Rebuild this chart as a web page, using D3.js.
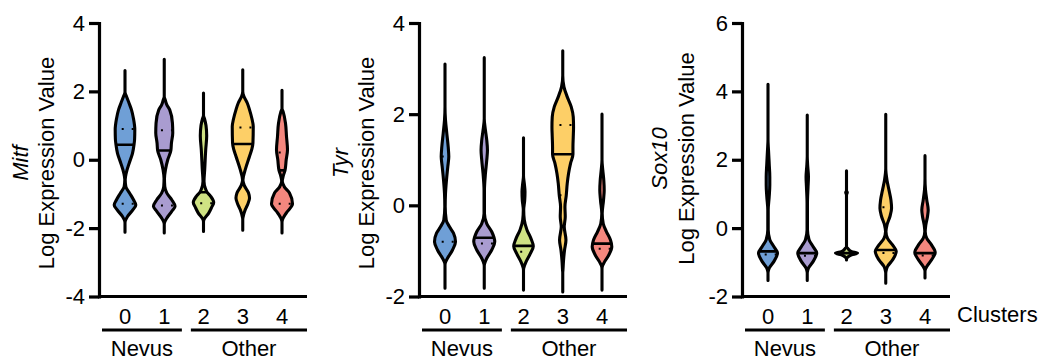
<!DOCTYPE html>
<html><head><meta charset="utf-8">
<script src="https://cdn.jsdelivr.net/npm/d3@7"></script>
<style>
body{margin:0;background:#fff}
svg{display:block}
text{font-family:"Liberation Sans",Arial,sans-serif;fill:#000}
</style>
</head><body>
<svg id="c" width="1044" height="362"></svg>
<script>
// ---------------- DATA ----------------
const clusters = ["0", "1", "2", "3", "4"];
const clusterColors = ["#6f9fd6", "#a99cd0", "#cfe283", "#fdcf67", "#f4877e"];
const groupNames = ["Nevus", "Other"];
const groupMembers = [["0", "1"], ["2", "3", "4"]];
const xAxisTitle = "Clusters";
const yAxisTitle = "Log Expression Value";
const genes = ["Mitf", "Tyr", "Sox10"];

const mitfRange = [-4, 4];
const mitfTicks = [-4, -2, 0, 2, 4];
const tyrRange = [-2, 4];
const tyrTicks = [-2, 0, 2, 4];
const sox10Range = [-2, 6];
const sox10Ticks = [-2, 0, 2, 4, 6];

// violin density profiles: [log expression value, relative density]
const mitfViolins = [
  [[2.61,0],[1.98,0],[1.85,1.5],[1.66,4],[1.46,6.5],[1.2,8.5],[0.88,9.8],[0.6,9.6],[0.44,9],[0.19,7.5],[-0.10,4.2],[-0.39,1.2],[-0.58,0.2],[-0.78,0.8],[-0.97,4.5],[-1.17,8.5],[-1.32,10.8],[-1.46,8],[-1.66,2.5],[-1.80,0.2],[-1.86,0],[-2.12,0]],
  [[2.94,0],[1.85,0],[1.75,1.0],[1.61,2.5],[1.46,5.5],[1.07,8.2],[0.78,8.5],[0.49,7.2],[0.27,6.6],[0,3.5],[-0.29,1.2],[-0.55,0.2],[-0.78,0.5],[-0.97,2.5],[-1.17,7.5],[-1.36,10.8],[-1.51,7.5],[-1.71,2.5],[-1.85,0.2],[-1.9,0],[-2.14,0]],
  [[1.95,0],[1.3,0],[1.2,1.0],[1.0,2.5],[0.7,3.2],[0.29,2.2],[-0.29,1.2],[-0.63,0.5],[-0.85,2.0],[-0.95,3.6],[-1.07,7.2],[-1.25,10.2],[-1.4,8],[-1.56,5.2],[-1.75,0.5],[-1.82,0],[-2.1,0]],
  [[2.63,0],[2.0,0],[1.85,1.2],[1.66,4.5],[1.46,6.8],[1.2,9.2],[0.97,10.5],[0.49,10.2],[0.3,9],[0.1,6.8],[-0.29,2.5],[-0.5,0.6],[-0.6,0.2],[-0.75,1.5],[-0.97,5.8],[-1.12,6.8],[-1.3,5.0],[-1.46,2.5],[-1.68,0.3],[-1.75,0],[-2.06,0]],
  [[2.03,0],[1.5,0],[1.40,1.2],[1.07,3.5],[0.68,4.5],[0.29,5.5],[0,4.2],[-0.31,3.0],[-0.48,1.2],[-0.63,0.3],[-0.8,2.5],[-0.97,7.5],[-1.29,10.5],[-1.56,4.2],[-1.78,0.2],[-1.84,0],[-2.14,0]]
];
const mitfMedian = [0.44, 0.27, -0.95, 0.46, -0.31];
const mitfQ1 = [-1.29, -1.34, -1.27, -0.60, -1.29];
const mitfQ3 = [0.90, 0.86, -0.5, 0.94, 0.21];

const tyrViolins = [
  [[3.10,0],[2.16,0],[1.87,0.5],[1.58,1.8],[1.28,3.2],[1.07,3.8],[0.85,2.8],[0.56,1.5],[0.26,0.5],[-0.03,0.2],[-0.32,1.2],[-0.47,4.5],[-0.61,8.5],[-0.80,10.5],[-0.98,7.5],[-1.16,2.5],[-1.27,0.2],[-1.32,0],[-1.82,0]],
  [[3.24,0],[1.9,0],[1.65,1.2],[1.43,2.5],[1.21,3.2],[0.99,2.5],[0.70,1.2],[0.33,0.2],[-0.18,0.2],[-0.40,2.5],[-0.58,7.5],[-0.80,10.5],[-0.98,7.5],[-1.16,2.5],[-1.29,0.2],[-1.34,0],[-1.82,0]],
  [[1.48,0],[0.65,0],[0.48,0.8],[0.30,1.5],[0.11,1.2],[-0.10,0.2],[-0.32,0.8],[-0.54,3.5],[-0.73,7.5],[-0.90,9.8],[-1.06,6.8],[-1.24,2.5],[-1.38,0.2],[-1.43,0],[-1.86,0]],
  [[3.39,0],[2.85,0],[2.60,1.2],[2.38,4.5],[2.16,8.5],[1.94,10.5],[1.72,10.8],[1.50,10.5],[1.28,10.2],[1.12,10.2],[0.92,7.8],[0.70,5.8],[0.48,4.5],[0.22,3.5],[-0.03,2.2],[-0.25,2.5],[-0.47,1.5],[-0.76,3.2],[-0.98,1.8],[-1.20,0.8],[-1.42,0.2],[-1.48,0],[-1.90,0]],
  [[2.0,0],[1.0,0],[0.77,0.8],[0.55,1.8],[0.33,2.2],[0.11,1.5],[-0.18,0.2],[-0.40,1.2],[-0.58,4.5],[-0.76,8.5],[-0.91,9.8],[-1.09,6.8],[-1.24,2.5],[-1.35,0.2],[-1.40,0],[-1.86,0]]
];
const tyrMedian = [-0.05, -0.71, -0.89, 1.12, -0.84];
const tyrQ1 = [-0.80, -0.84, -1.02, 0.22, -0.95];
const tyrQ3 = [1.07, 0.8, -0.15, 1.76, 0.1];

const sox10Violins = [
  [[4.21,0],[2.6,0],[2.28,0.5],[1.89,1.2],[1.50,1.8],[1.26,1.8],[0.92,1.2],[0.53,0.2],[-0.05,0.2],[-0.34,1.8],[-0.54,5.8],[-0.73,9.5],[-0.98,5.8],[-1.17,1.2],[-1.27,0.2],[-1.32,0],[-1.53,0]],
  [[3.31,0],[2.1,0],[1.80,0.5],[1.50,1.2],[1.21,0.8],[0.73,0.2],[-0.05,0.2],[-0.34,1.8],[-0.54,5.8],[-0.73,9.5],[-0.98,5.8],[-1.17,1.2],[-1.27,0.2],[-1.32,0],[-1.53,0]],
  [[1.68,0],[1.10,0],[1.04,0.8],[0.98,0],[-0.55,0],[-0.59,1.2],[-0.69,5.2],[-0.73,11],[-0.78,5.2],[-0.85,1.2],[-0.88,0],[-0.93,0]],
  [[3.33,0],[1.75,0],[1.41,1.2],[1.12,3.2],[0.82,5.2],[0.58,5.8],[0.34,4.2],[0.09,1.2],[-0.10,0.2],[-0.30,1.8],[-0.49,6.8],[-0.68,10.5],[-0.93,6.8],[-1.12,1.8],[-1.27,0.2],[-1.32,0],[-1.61,0]],
  [[2.12,0],[1.45,0],[1.12,0.5],[0.82,1.8],[0.53,3.2],[0.34,2.5],[0.09,0.8],[-0.10,0.2],[-0.30,1.8],[-0.49,6.5],[-0.71,10.2],[-0.93,6.5],[-1.12,1.8],[-1.22,0.2],[-1.27,0],[-1.46,0]]
];
const sox10Median = [-0.68, -0.73, -0.73, -0.64, -0.73];
const sox10Q1 = [-0.77, -0.81, -0.81, -0.73, -0.80];
const sox10Q3 = [0.3, 0.3, 1.04, 0.61, 0.3];

// ---------------- LAYOUT ----------------
const svg = d3.select("#c");
const plotTop = 23, plotBottom = 296.5, plotW = 208;
const FS = 22;
const panels = [
  {gene: genes[0], range: mitfRange, ticks: mitfTicks, violins: mitfViolins, med: mitfMedian, q1: mitfQ1, q3: mitfQ3, ax: 99, titleY: 163, titleX: 54, geneX: 28},
  {gene: genes[1], range: tyrRange, ticks: tyrTicks, violins: tyrViolins, med: tyrMedian, q1: tyrQ1, q3: tyrQ3, ax: 419, titleY: 163, titleX: 374, geneX: 347.5},
  {gene: genes[2], range: sox10Range, ticks: sox10Ticks, violins: sox10Violins, med: sox10Median, q1: sox10Q1, q3: sox10Q3, ax: 742, titleY: 158.5, titleX: 694, geneX: 667, showXTitle: true}
];
const wScale = d3.scaleLinear().domain([0, 11]).range([0, 11]);

panels.forEach((p, pi) => {
  const y = d3.scaleLinear().domain(p.range).range([plotBottom, plotTop]);
  const x = d3.scalePoint().domain(clusters).range([p.ax + 26, p.ax + 183]);
  const g = svg.append("g");

  // violins
  p.violins.forEach((prof, i) => {
    const cx = x(clusters[i]);
    const area = d3.area().curve(d3.curveMonotoneY)
      .y(d => y(d[0]))
      .x0(d => cx - wScale(d[1]))
      .x1(d => cx + wScale(d[1]));
    const dPath = area(prof);
    const cid = `clip-${pi}-${i}`;
    g.append("clipPath").attr("id", cid).append("path").attr("d", dPath);
    const inner = g.append("g").attr("clip-path", `url(#${cid})`);
    inner.append("path").attr("d", dPath).attr("fill", clusterColors[i]).attr("stroke", "none");
    [p.q1[i], p.q3[i]].forEach(q => {
      inner.append("line")
        .attr("x1", cx - 13.3).attr("x2", cx + 14)
        .attr("y1", y(q)).attr("y2", y(q))
        .attr("stroke", "#000").attr("stroke-width", 2)
        .attr("stroke-dasharray", "2 8");
    });
    inner.append("line")
      .attr("x1", cx - 16).attr("x2", cx + 16)
      .attr("y1", y(p.med[i])).attr("y2", y(p.med[i]))
      .attr("stroke", "#000").attr("stroke-width", 2.6);
    g.append("path").attr("d", dPath).attr("fill", "none")
      .attr("stroke", "#000").attr("stroke-width", 3.1)
      .attr("stroke-linejoin", "round").attr("stroke-linecap", "round");
  });

  // y axis
  const ya = g.append("g").attr("transform", `translate(${p.ax},0)`)
    .call(d3.axisLeft(y).tickValues(p.ticks).tickSize(10).tickSizeOuter(0).tickPadding(4)
      .tickFormat(d => String(d)));
  ya.attr("font-size", FS).attr("font-family", '"Liberation Sans",Arial,sans-serif');
  ya.select(".domain").attr("stroke", "#000").attr("stroke-width", 3.2).attr("stroke-linecap", "square");
  ya.selectAll(".tick line").attr("stroke", "#000").attr("stroke-width", 3.2);
  ya.selectAll(".tick text").attr("fill", "#000");

  // x baseline
  g.append("line").attr("x1", p.ax).attr("x2", p.ax + plotW)
    .attr("y1", plotBottom).attr("y2", plotBottom)
    .attr("stroke", "#000").attr("stroke-width", 3.2);

  // cluster labels
  clusters.forEach(c => {
    g.append("text").attr("x", x(c)).attr("y", 324)
      .attr("text-anchor", "middle").attr("font-size", FS).text(c);
  });

  // group underlines + labels
  const split = (x(clusters[1]) + x(clusters[2])) / 2;
  const spans = [[p.ax + 3, split - 2], [split + 7, p.ax + plotW]];
  groupNames.forEach((gn, gi) => {
    const [a, b] = spans[gi];
    g.append("line").attr("x1", a).attr("x2", b).attr("y1", 330).attr("y2", 330)
      .attr("stroke", "#000").attr("stroke-width", 3.2);
    g.append("text").attr("x", (a + b) / 2).attr("y", 356)
      .attr("text-anchor", "middle").attr("font-size", FS).text(gn);
  });

  // y titles
  g.append("text").attr("transform", `translate(${p.titleX},${p.titleY}) rotate(-90)`)
    .attr("text-anchor", "middle").attr("font-size", FS).text(yAxisTitle);
  g.append("text").attr("transform", `translate(${p.geneX},${p.titleY}) rotate(-90)`)
    .attr("text-anchor", "middle").attr("font-size", FS).attr("font-style", "italic").text(p.gene);

  if (p.showXTitle) {
    g.append("text").attr("x", p.ax + 215).attr("y", 322).attr("font-size", FS).text(xAxisTitle);
  }
});
</script>
</body></html>
